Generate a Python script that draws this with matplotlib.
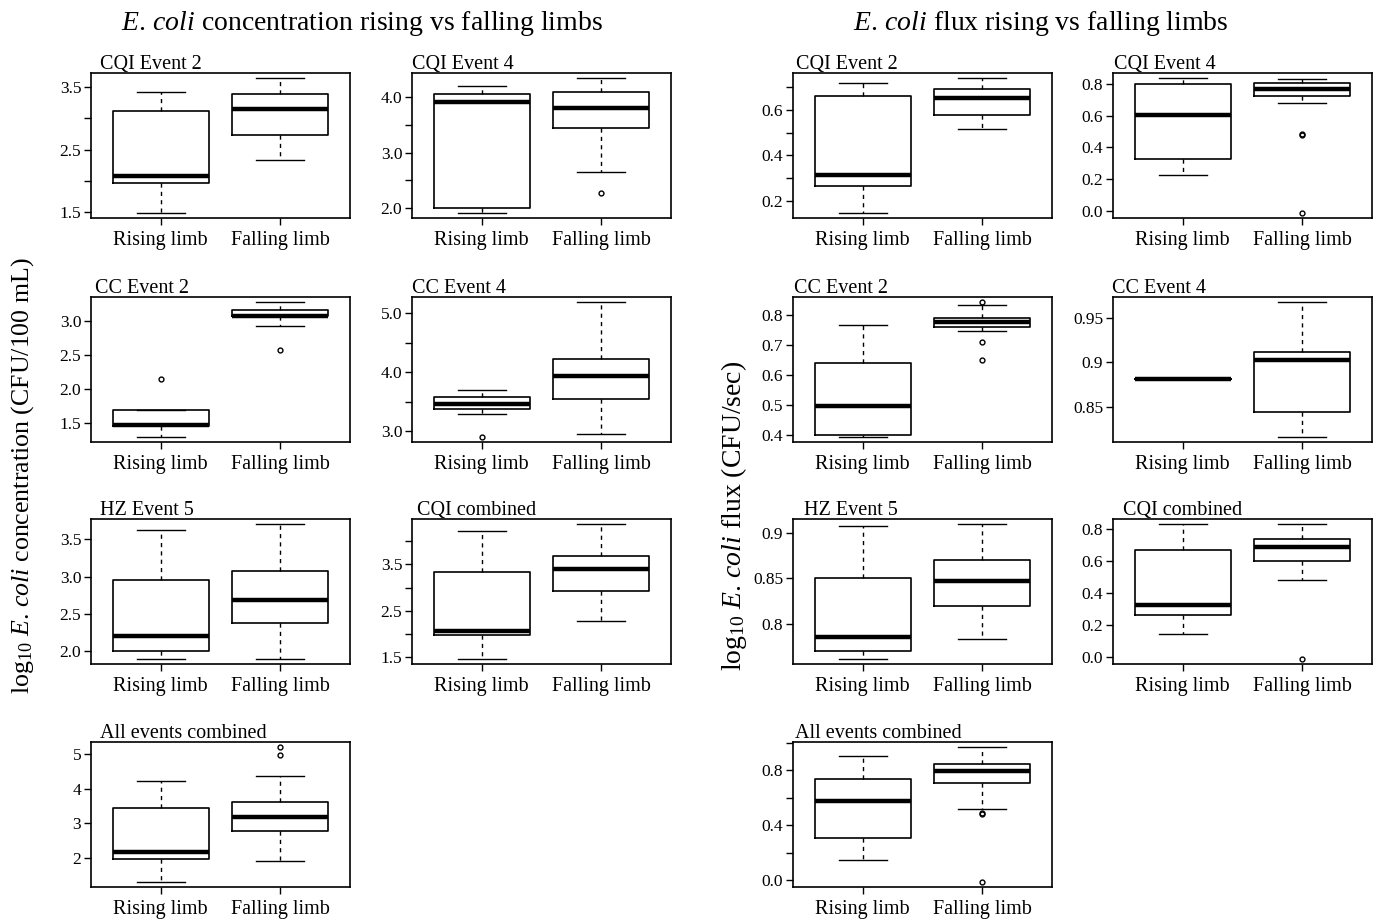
import matplotlib
matplotlib.use("Agg")
import matplotlib.pyplot as plt

plt.rcParams['font.family'] = ['Liberation Serif', 'DejaVu Serif']
plt.rcParams['mathtext.fontset'] = 'custom'
plt.rcParams['mathtext.rm'] = 'Liberation Serif'
plt.rcParams['mathtext.it'] = 'Liberation Serif:italic'

limbs = ['Rising limb', 'Falling limb']
panel_titles = ['CQI Event 2', 'CQI Event 4', 'CC Event 2', 'CC Event 4',
                'HZ Event 5', 'CQI combined', 'All events combined']

# summaries per panel: [lower whisker, Q1, median, Q3, upper whisker]
conc_rising = [
    [1.49, 1.96, 2.08, 3.11, 3.42],
    [1.92, 2.00, 3.92, 4.05, 4.20],
    [1.305, 1.46, 1.475, 1.70, 1.70],
    [3.30, 3.37, 3.46, 3.58, 3.69],
    [1.90, 2.005, 2.205, 2.96, 3.62],
    [1.47, 1.98, 2.07, 3.34, 4.21],
    [1.30, 1.95, 2.155, 3.43, 4.21],
]
conc_rising_out = [[], [], [2.15], [2.91], [], [], []]
conc_falling = [
    [2.34, 2.74, 3.15, 3.39, 3.64],
    [2.66, 3.44, 3.80, 4.09, 4.34],
    [2.92, 3.065, 3.07, 3.155, 3.27],
    [2.95, 3.55, 3.93, 4.22, 5.18],
    [1.90, 2.38, 2.68, 3.08, 3.70],
    [2.28, 2.93, 3.39, 3.68, 4.36],
    [1.90, 2.78, 3.17, 3.61, 4.37],
]
conc_falling_out = [[], [2.28], [2.58], [], [], [], [5.20, 4.97]]
conc_ticks = [
    [1.5, 2.0, 2.5, 3.0, 3.5],
    [2.0, 2.5, 3.0, 3.5, 4.0],
    [1.5, 2.0, 2.5, 3.0],
    [3.0, 3.5, 4.0, 4.5, 5.0],
    [2.0, 2.5, 3.0, 3.5],
    [1.5, 2.0, 2.5, 3.0, 3.5, 4.0],
    [2, 3, 4, 5],
]
conc_ticklabels = [
    ['1.5', '', '2.5', '', '3.5'],
    ['2.0', '', '3.0', '', '4.0'],
    ['1.5', '2.0', '2.5', '3.0'],
    ['3.0', '', '4.0', '', '5.0'],
    ['2.0', '2.5', '3.0', '3.5'],
    ['1.5', '', '2.5', '', '3.5', ''],
    ['2', '3', '4', '5'],
]

flux_rising = [
    [0.147, 0.263, 0.312, 0.66, 0.718],
    [0.225, 0.327, 0.604, 0.80, 0.833],
    [0.395, 0.399, 0.497, 0.639, 0.768],
    [0.881, 0.881, 0.881, 0.881, 0.881],
    [0.762, 0.770, 0.7855, 0.85, 0.907],
    [0.146, 0.263, 0.326, 0.673, 0.831],
    [0.15, 0.309, 0.58, 0.74, 0.904],
]
flux_rising_out = [[], [], [], [], [], [], []]
flux_falling = [
    [0.518, 0.579, 0.653, 0.693, 0.74],
    [0.68, 0.725, 0.765, 0.802, 0.829],
    [0.747, 0.76, 0.778, 0.789, 0.832],
    [0.817, 0.845, 0.903, 0.9116, 0.967],
    [0.784, 0.820, 0.847, 0.870, 0.909],
    [0.482, 0.60, 0.691, 0.737, 0.831],
    [0.52, 0.708, 0.798, 0.846, 0.967],
]
flux_falling_out = [[], [0.485, 0.48, -0.008], [0.842, 0.71, 0.649], [],
                    [], [-0.01], [0.486, 0.48, -0.01]]
flux_ticks = [
    [0.2, 0.3, 0.4, 0.5, 0.6, 0.7],
    [0.0, 0.2, 0.4, 0.6, 0.8],
    [0.4, 0.5, 0.6, 0.7, 0.8],
    [0.85, 0.9, 0.95],
    [0.8, 0.85, 0.9],
    [0.0, 0.2, 0.4, 0.6, 0.8],
    [0.0, 0.2, 0.4, 0.6, 0.8, 1.0],
]
flux_ticklabels = [
    ['0.2', '', '0.4', '', '0.6', ''],
    ['0.0', '0.2', '0.4', '0.6', '0.8'],
    ['0.4', '0.5', '0.6', '0.7', '0.8'],
    ['0.85', '0.9', '0.95'],
    ['0.8', '0.85', '0.9'],
    ['0.0', '0.2', '0.4', '0.6', '0.8'],
    ['0.0', '', '0.4', '', '0.8', ''],
]

# layout in pixels (figure is 1381 x 921)
W, H = 1381, 921
row_tops = [73, 297, 519, 742]
panel_h = 145
panel_w = 259
conc_cols = [91, 412]
flux_cols = [793, 1113]
conc_title_dx = [9, 0, 4, 0, 9, 5, 9]
flux_title_dx = [3, 1, 1, -1, 11, 10, 2]

fig = plt.figure(figsize=(W / 100, H / 100), dpi=100)


def stats_for(summary, out, label):
    lo, q1, med, q3, hi = summary
    return dict(whislo=lo, q1=q1, med=med, q3=q3, whishi=hi, fliers=out, label=label)


def draw_panel(left, top, title, rs, ro, fs, fo, ticks, labels, title_dx):
    ax = fig.add_axes([left / W, 1 - (top + panel_h) / H, panel_w / W, panel_h / H])
    st = [stats_for(rs, ro, limbs[0]), stats_for(fs, fo, limbs[1])]
    ax.bxp(st, positions=[1, 2], widths=0.8, patch_artist=False,
           boxprops=dict(color='black', lw=1.2),
           whiskerprops=dict(color='black', lw=1.0, linestyle=(0, (3, 3))),
           capprops=dict(color='black', lw=1.0),
           medianprops=dict(color='black', lw=3.2, solid_capstyle='butt'),
           flierprops=dict(marker='o', markerfacecolor='none', markeredgecolor='black',
                           markersize=3.5, markeredgewidth=1.0, linestyle='none'))
    ax.margins(y=0.04)
    ax.set_xlim(0.42, 2.58)
    ax.set_yticks(ticks)
    ax.set_yticklabels(labels, fontsize=12.5)
    ax.set_xticks([1, 2])
    ax.set_xticklabels(limbs, fontsize=14.5)
    ax.tick_params(axis='both', direction='out', length=5, width=1, color='black')
    ax.tick_params(axis='y', pad=2)
    ax.tick_params(axis='x', pad=4.5)
    for sp in ax.spines.values():
        sp.set_linewidth(1.2)
    ax.annotate(title, xy=(0, 1), xycoords='axes fraction',
                xytext=(title_dx * 0.72, 3), textcoords='offset points',
                ha='left', va='baseline', fontsize=14.5)
    return ax


for i in range(7):
    r, c = divmod(i, 2)
    draw_panel(conc_cols[c], row_tops[r], panel_titles[i],
               conc_rising[i], conc_rising_out[i], conc_falling[i], conc_falling_out[i],
               conc_ticks[i], conc_ticklabels[i], conc_title_dx[i])
    draw_panel(flux_cols[c], row_tops[r], panel_titles[i],
               flux_rising[i], flux_rising_out[i], flux_falling[i], flux_falling_out[i],
               flux_ticks[i], flux_ticklabels[i], flux_title_dx[i])

ecoli = r'$\it{E.\,coli}$'
fig.text(362 / W, 1 - 23 / H, ecoli + ' concentration rising vs falling limbs',
         ha='center', va='center', fontsize=20)
fig.text(1041 / W, 1 - 23 / H, ecoli + ' flux rising vs falling limbs',
         ha='center', va='center', fontsize=20)
fig.text(23 / W, 1 - 476 / H, r'$\mathrm{log}_{10}\ \it{E.\,coli}$ concentration (CFU/100 mL)',
         ha='center', va='center', rotation=90, fontsize=18.6)
fig.text(734 / W, 1 - 516 / H, r'$\mathrm{log}_{10}\ \it{E.\,coli}$ flux (CFU/sec)',
         ha='center', va='center', rotation=90, fontsize=20)

fig.savefig('out.png', dpi=100)
